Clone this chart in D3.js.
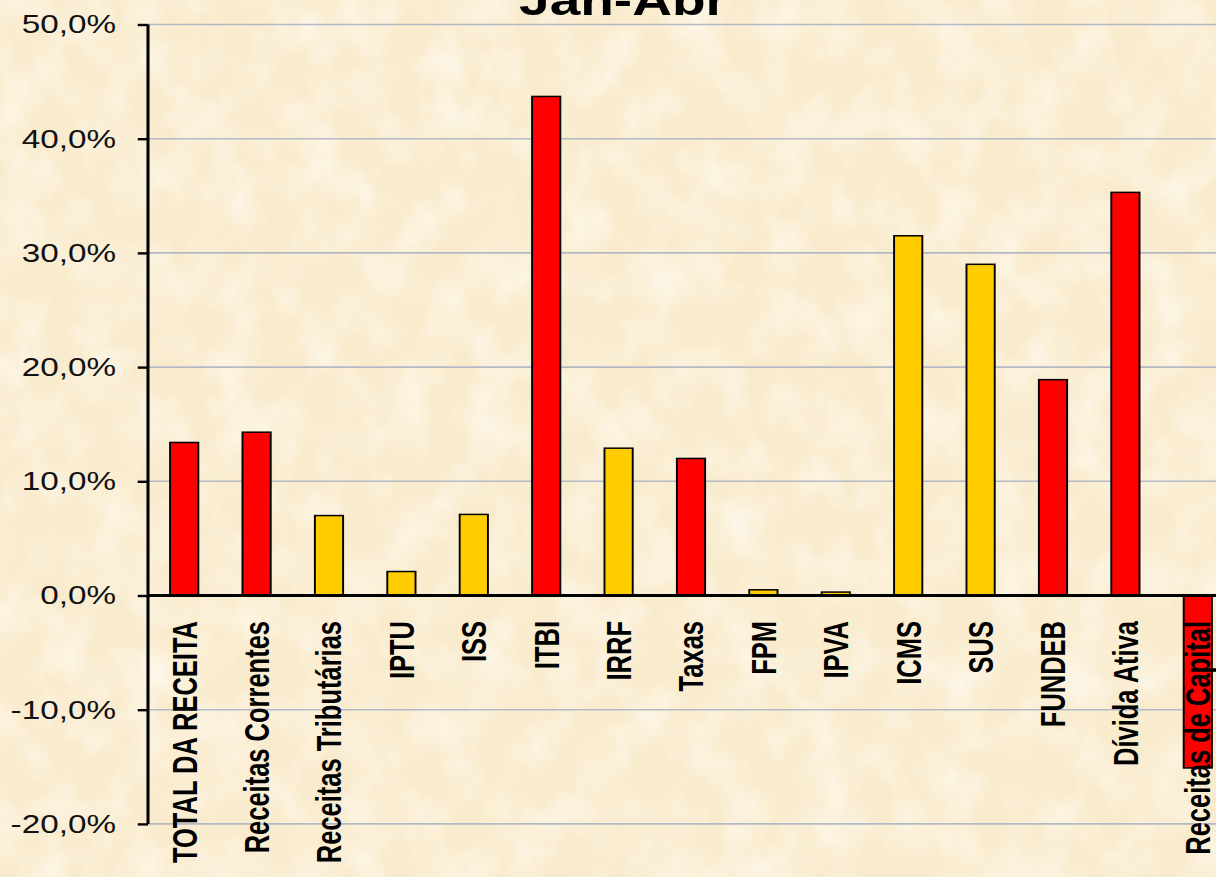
<!DOCTYPE html>
<html>
<head>
<meta charset="utf-8">
<script src="https://cdn.jsdelivr.net/npm/d3@7"></script>
<style>
  html, body { margin: 0; padding: 0; background: #faeed3; overflow: hidden; }
  svg { display: block; }
</style>
</head>
<body>
<div id="chart"></div>
<script>
  // data
  var categories = ['TOTAL DA RECEITA', 'Receitas Correntes', 'Receitas Tributárias', 'IPTU', 'ISS', 'ITBI',
    'IRRF', 'Taxas', 'FPM', 'IPVA', 'ICMS', 'SUS', 'FUNDEB', 'Dívida Ativa', 'Receitas de Capital'];
  var values = [13.4, 14.3, 7.0, 2.1, 7.1, 43.7, 12.9, 12.0, 0.5, 0.3, 31.5, 29.0, 18.9, 35.3, -15.1];
  var groups = ['r', 'r', 'y', 'y', 'y', 'r', 'y', 'r', 'y', 'y', 'y', 'y', 'r', 'r', 'r'];
  var yTicks = [-20, -10, 0, 10, 20, 30, 40, 50];
  var title = 'Jan-Abr';

  // the original picture is stretched sideways, so draw narrow and stretch the svg
  var stretch = 1.28,
    width = 1216,
    height = 877,
    vbW = width / stretch,
    axisX = 148 / stretch,
    plotRight = 1234 / stretch,
    fills = { r: '#ff0000', y: '#ffcc00' };

  var svg = d3.select('#chart')
    .append('svg')
    .attr('width', width)
    .attr('height', height)
    .attr('viewBox', '0 0 ' + vbW + ' ' + height)
    .attr('preserveAspectRatio', 'none')
    .style('font-family', '"Liberation Sans", Arial, sans-serif');

  // soft paper texture
  var filter = svg.append('defs').append('filter')
    .attr('id', 'paper')
    .attr('x', 0).attr('y', 0).attr('width', 1).attr('height', 1);
  filter.append('feTurbulence')
    .attr('type', 'fractalNoise')
    .attr('baseFrequency', '0.03 0.02')
    .attr('numOctaves', 3)
    .attr('seed', 7);
  filter.append('feColorMatrix')
    .attr('type', 'matrix')
    .attr('values', '0 0 0 0 1  0 0 0 0 0.975  0 0 0 0 0.92  1.3 0 0 0 -0.5');

  svg.append('rect')
    .attr('width', vbW)
    .attr('height', height)
    .attr('fill', '#f9ebcd');
  svg.append('rect')
    .attr('width', vbW)
    .attr('height', height)
    .attr('filter', 'url(#paper)');

  var x = d3.scaleBand()
    .domain(categories)
    .range([axisX, plotRight])
    .paddingInner(0.61)
    .paddingOuter(0.305);

  var y = d3.scaleLinear()
    .domain([-20, 50])
    .range([823.9, 24.5]);

  // gridlines
  svg.append('g')
    .selectAll('line')
    .data(yTicks.filter(function(d){ return d !== 0; }))
    .join('line')
    .attr('x1', axisX)
    .attr('x2', plotRight)
    .attr('y1', function(d){ return y(d); })
    .attr('y2', function(d){ return y(d); })
    .attr('stroke', '#b4b9c6')
    .attr('stroke-width', 1.6);

  // bars
  svg.append('g')
    .selectAll('rect')
    .data(values)
    .join('rect')
    .attr('x', function(d, i){ return x(categories[i]); })
    .attr('y', function(d){ return y(Math.max(0, d)); })
    .attr('width', x.bandwidth())
    .attr('height', function(d){ return Math.abs(y(d) - y(0)); })
    .attr('fill', function(d, i){ return fills[groups[i]]; })
    .attr('stroke', '#000')
    .attr('stroke-width', 1.5);

  // zero line
  svg.append('line')
    .attr('x1', axisX)
    .attr('x2', plotRight)
    .attr('y1', y(0))
    .attr('y2', y(0))
    .attr('stroke', '#000')
    .attr('stroke-width', 3);

  // y axis
  var yAxis = d3.axisLeft(y)
    .tickValues(yTicks)
    .tickSize(8)
    .tickPadding(25)
    .tickFormat(function(d){ return d3.format('.1f')(d).replace('.', ',').replace('\u2212', '-') + '%'; });

  var gy = svg.append('g')
    .attr('transform', 'translate(' + axisX + ',0)')
    .call(yAxis);
  gy.select('.domain')
    .attr('stroke', '#000')
    .attr('stroke-width', 2.4)
    .attr('d', 'M0,' + y(50) + 'V' + y(-20));
  gy.selectAll('.tick line')
    .attr('stroke', '#000')
    .attr('stroke-width', 2.4);
  gy.selectAll('.tick text')
    .attr('fill', '#111')
    .attr('font-size', 26)
    .attr('x', -25)
    .attr('font-family', '"Liberation Sans", Arial, sans-serif');

  // category labels, rotated
  svg.append('g')
    .selectAll('text')
    .data(categories)
    .join('text')
    .attr('transform', function(d){
      return 'translate(' + (x(d) + x.bandwidth() / 2) + ',621) rotate(-90) scale(1,1.06)';
    })
    .attr('text-anchor', 'end')
    .attr('dy', '0.36em')
    .attr('font-size', 25.5)
    .attr('font-weight', 'bold')
    .attr('fill', '#000')
    .text(function(d){ return d; });

  // title, cut by the top edge
  svg.append('text')
    .attr('x', 623 / stretch)
    .attr('y', 15)
    .attr('text-anchor', 'middle')
    .attr('font-size', 43)
    .attr('font-weight', 'bold')
    .attr('fill', '#000')
    .text(title);
</script>
</body>
</html>
